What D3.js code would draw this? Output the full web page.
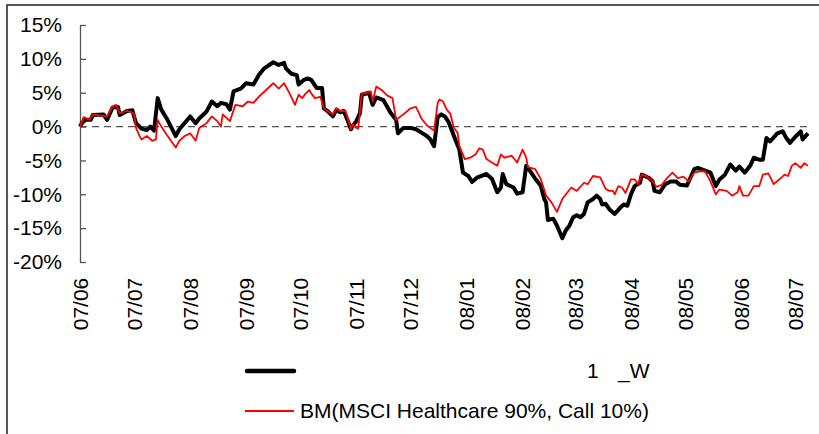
<!DOCTYPE html>
<html>
<head>
<meta charset="utf-8">
<script src="https://cdn.jsdelivr.net/npm/d3@7"></script>
<style>
  body { margin: 0; background: #fff; }
  svg { display: block; font-family: "Liberation Sans", Arial, sans-serif; }
</style>
</head>
<body>
<div id="chart"></div>
<script>
// fund (black) — cumulative return, %
var fundDates = ["2007-06-01","2007-06-02","2007-06-04","2007-06-07","2007-06-08","2007-06-14","2007-06-16","2007-06-19","2007-06-22","2007-06-23",
  "2007-06-27","2007-06-30","2007-07-02","2007-07-05","2007-07-08","2007-07-10","2007-07-12","2007-07-14","2007-07-16","2007-07-19",
  "2007-07-24","2007-07-26","2007-08-01","2007-08-04","2007-08-06","2007-08-10","2007-08-13","2007-08-16","2007-08-18","2007-08-21",
  "2007-08-23","2007-08-25","2007-08-29","2007-09-01","2007-09-05","2007-09-08","2007-09-11","2007-09-16","2007-09-19","2007-09-22",
  "2007-09-23","2007-09-26","2007-09-29","2007-09-30","2007-10-03","2007-10-05","2007-10-07","2007-10-10","2007-10-13","2007-10-14",
  "2007-10-16","2007-10-19","2007-10-21","2007-10-23","2007-10-25","2007-10-27","2007-10-29","2007-10-30","2007-11-01","2007-11-03",
  "2007-11-04","2007-11-08","2007-11-10","2007-11-12","2007-11-16","2007-11-20","2007-11-23","2007-11-24","2007-11-27","2007-12-01",
  "2007-12-04","2007-12-07","2007-12-10","2007-12-12","2007-12-14","2007-12-16","2007-12-18","2007-12-20","2007-12-22","2007-12-24",
  "2007-12-26","2007-12-28","2007-12-30","2008-01-02","2008-01-04","2008-01-07","2008-01-09","2008-01-12","2008-01-15","2008-01-18",
  "2008-01-20","2008-01-21","2008-01-23","2008-01-27","2008-01-29","2008-02-01","2008-02-03","2008-02-05","2008-02-08","2008-02-11",
  "2008-02-13","2008-02-14","2008-02-15","2008-02-18","2008-02-20","2008-02-23","2008-02-25","2008-02-27","2008-02-29","2008-03-02",
  "2008-03-04","2008-03-06","2008-03-08","2008-03-11","2008-03-13","2008-03-15","2008-03-16","2008-03-18","2008-03-20","2008-03-23",
  "2008-03-26","2008-03-28","2008-03-30","2008-04-01","2008-04-03","2008-04-06","2008-04-07","2008-04-11","2008-04-13","2008-04-14",
  "2008-04-17","2008-04-20","2008-04-23","2008-04-26","2008-04-28","2008-05-02","2008-05-06","2008-05-08","2008-05-11","2008-05-15",
  "2008-05-18","2008-05-20","2008-05-23","2008-05-26","2008-05-29","2008-05-31","2008-06-03","2008-06-06","2008-06-08","2008-06-11",
  "2008-06-13","2008-06-15","2008-06-17","2008-06-21","2008-06-24","2008-06-26","2008-06-28","2008-07-01","2008-07-04","2008-07-05",
  "2008-07-08"];
var fundValues = [0, 0.5, 1.0, 1.0, 1.7, 1.8, 1.0, 2.8, 2.9, 1.7,
  2.3, 2.4, 0.5, -0.3, -0.5, 0, -0.6, 4.2, 2.5, 1.2,
  -1.4, -0.4, 1.5, 0.5, 1.2, 2.2, 3.7, 3.0, 3.5, 3.3,
  2.5, 5.2, 5.6, 6.4, 6.2, 7.6, 8.6, 9.5, 9.1, 9.4,
  8.6, 7.8, 7.6, 6.2, 6.9, 7.1, 6.9, 5.7, 5.7, 2.7,
  2.3, 1.5, 2.5, 2.1, 2.3, 1.0, -0.4, 0.1, 0.8, 2.0,
  4.7, 5.0, 3.2, 4.3, 3.9, 2.0, 1.0, -1.0, -0.2, -0.2,
  -0.4, -0.9, -1.4, -1.9, -2.9, 1.4, 1.8, 1.5, 0.7, -0.7,
  -2.1, -3.4, -6.8, -7.3, -8.2, -7.5, -7.3, -7.0, -7.7, -9.7,
  -9.0, -7.0, -8.5, -9.0, -9.9, -9.7, -5.8, -6.5, -7.7, -8.7,
  -10.7, -11.2, -13.8, -13.6, -14.6, -16.5, -15.3, -14.6, -13.4, -13.1,
  -13.4, -12.9, -11.2, -10.7, -10.2, -10.7, -11.5, -11.4, -12.2, -12.9,
  -12.0, -11.5, -11.7, -10.0, -8.8, -8.3, -7.1, -7.6, -8.1, -9.5,
  -9.7, -8.5, -8.1, -8.1, -8.6, -8.7, -6.3, -6.1, -6.4, -6.8,
  -8.8, -7.8, -7.1, -5.6, -6.5, -5.9, -6.8, -5.8, -4.6, -4.9,
  -4.9, -1.7, -2.2, -1.0, -0.7, -1.7, -2.4, -1.5, -0.7, -1.9,
  -1.0];

// benchmark (red) — BM(MSCI Healthcare 90%, Call 10%), %
var bmDates = ["2007-06-01","2007-06-03","2007-06-06","2007-06-08","2007-06-16","2007-06-19","2007-06-21","2007-06-23","2007-06-27","2007-06-30",
  "2007-07-01","2007-07-02","2007-07-04","2007-07-05","2007-07-08","2007-07-11","2007-07-13","2007-07-14","2007-07-16","2007-07-19",
  "2007-07-24","2007-07-26","2007-07-29","2007-08-01","2007-08-04","2007-08-06","2007-08-10","2007-08-13","2007-08-16","2007-08-18",
  "2007-08-19","2007-08-23","2007-08-26","2007-08-30","2007-09-02","2007-09-05","2007-09-08","2007-09-12","2007-09-16","2007-09-19",
  "2007-09-22","2007-09-25","2007-09-28","2007-09-30","2007-10-02","2007-10-04","2007-10-06","2007-10-07","2007-10-09","2007-10-12",
  "2007-10-14","2007-10-16","2007-10-19","2007-10-21","2007-10-23","2007-10-26","2007-10-29","2007-10-30","2007-11-01","2007-11-02",
  "2007-11-04","2007-11-06","2007-11-09","2007-11-10","2007-11-12","2007-11-15","2007-11-18","2007-11-21","2007-11-23","2007-11-27",
  "2007-12-01","2007-12-04","2007-12-07","2007-12-10","2007-12-14","2007-12-16","2007-12-17","2007-12-19","2007-12-21","2007-12-23",
  "2007-12-25","2007-12-27","2007-12-28","2007-12-31","2008-01-03","2008-01-06","2008-01-08","2008-01-10","2008-01-12","2008-01-15",
  "2008-01-18","2008-01-20","2008-01-22","2008-01-26","2008-01-29","2008-02-01","2008-02-03","2008-02-04","2008-02-08","2008-02-11",
  "2008-02-14","2008-02-17","2008-02-20","2008-02-23","2008-02-25","2008-02-28","2008-03-02","2008-03-06","2008-03-08","2008-03-11",
  "2008-03-15","2008-03-18","2008-03-20","2008-03-22","2008-03-23","2008-03-25","2008-03-27","2008-03-29","2008-04-01","2008-04-03",
  "2008-04-05","2008-04-07","2008-04-10","2008-04-13","2008-04-15","2008-04-18","2008-04-21","2008-04-24","2008-04-27","2008-04-30",
  "2008-05-03","2008-05-06","2008-05-09","2008-05-12","2008-05-15","2008-05-18","2008-05-20","2008-05-24","2008-05-27","2008-05-30",
  "2008-05-31","2008-06-02","2008-06-05","2008-06-08","2008-06-11","2008-06-13","2008-06-16","2008-06-19","2008-06-23","2008-06-25",
  "2008-06-27","2008-06-29","2008-07-01","2008-07-04","2008-07-06","2008-07-08"];
var bmValues = [0, 1.4, 1.0, 1.8, 1.5, 3.0, 3.2, 2.0, 2.3, 2.1,
  1.8, -0.2, -1.4, -1.9, -1.4, -2.1, -1.9, 1.0, 0.0, -1.2,
  -3.1, -2.1, -1.4, -1.0, -2.1, -0.2, 0.5, 1.5, 0.8, 0.0,
  1.8, 0.8, 3.2, 3.0, 3.7, 3.5, 4.4, 5.4, 6.4, 5.6,
  6.4, 4.9, 3.2, 4.7, 4.2, 4.9, 5.4, 4.9, 4.2, 4.4,
  2.7, 2.3, 1.8, 2.7, 2.3, 2.3, -0.4, 0.3, -0.2, -0.3,
  4.9, 4.9, 5.2, 3.7, 5.9, 5.4, 4.6, 4.2, 1.0, 1.8,
  2.7, 2.9, 1.2, 0.2, -0.6, 3.5, 4.0, 3.7, 2.5, 1.9,
  -0.2, -0.9, -2.9, -4.8, -4.6, -4.1, -3.2, -3.4, -4.8, -5.3,
  -5.8, -4.1, -4.6, -4.3, -5.3, -3.4, -4.6, -6.0, -6.3, -7.7,
  -10.2, -11.2, -12.6, -10.7, -10.0, -9.0, -9.5, -8.3, -8.5, -7.3,
  -7.5, -9.2, -9.5, -9.5, -10.0, -8.8, -9.0, -9.8, -7.8, -7.8,
  -8.5, -7.1, -7.4, -8.1, -8.9, -8.6, -7.6, -6.8, -7.6, -7.4,
  -8.1, -6.8, -6.6, -6.6, -8.1, -10.0, -9.3, -9.5, -10.2, -9.7,
  -8.8, -10.2, -10.2, -8.8, -8.8, -7.1, -6.9, -8.5, -7.6, -7.1,
  -7.3, -5.8, -5.4, -6.1, -5.4, -5.8];

var yTicks = [15, 10, 5, 0, -5, -10, -15, -20];
var xStart = "2007-06-01", xEnd = "2008-07-08";
var legendFund = ["1", "_W"];
var legendBm = "BM(MSCI Healthcare 90%, Call 10%)";

var width = 819, height = 434;
var fontSize = "21px";
var parse = d3.timeParse("%Y-%m-%d");

var svg = d3.select("#chart").append("svg")
    .attr("width", width)
    .attr("height", height);

// outer frame (runs off the right and bottom edge)
svg.append("rect")
    .attr("x", 7).attr("y", 5)
    .attr("width", 840).attr("height", 460)
    .attr("fill", "none")
    .attr("stroke", "#222")
    .attr("stroke-width", 1.5);

var x = d3.scaleTime()
    .domain([parse(xStart), parse(xEnd)])
    .range([80, 808]);

var y = d3.scaleLinear()
    .domain([-20, 15])
    .range([262, 25]);

// y axis, ticks pointing inward
var yAxis = svg.append("g")
    .attr("transform", "translate(80,0)")
    .call(d3.axisLeft(y)
      .tickValues(yTicks)
      .tickSize(-6)
      .tickSizeOuter(0)
      .tickPadding(18)
      .tickFormat(function(d) { return d + "%"; }));
yAxis.select(".domain").attr("stroke", "#555").attr("stroke-width", 1.3);
yAxis.selectAll(".tick line").attr("stroke", "#555").attr("stroke-width", 1.3);
yAxis.selectAll(".tick text")
    .attr("fill", "#000")
    .style("font-size", fontSize)
    .style("font-family", "'Liberation Sans', Arial, sans-serif");

// x axis labels only, rotated
var xAxis = svg.append("g")
    .call(d3.axisBottom(x)
      .tickValues(d3.timeMonth.range(parse("2007-06-01"), parse("2008-07-02")))
      .tickSize(0)
      .tickFormat(d3.timeFormat("%y/%m")));
xAxis.select(".domain").remove();
xAxis.selectAll(".tick text")
    .attr("x", 0).attr("y", 0)
    .attr("dy", ".35em")
    .attr("transform", "translate(0,304) rotate(-90)")
    .style("text-anchor", "middle")
    .attr("fill", "#000")
    .style("font-size", fontSize)
    .style("font-family", "'Liberation Sans', Arial, sans-serif");

// dashed zero line
svg.append("line")
    .attr("x1", x.range()[0]).attr("x2", x.range()[1])
    .attr("y1", y(0)).attr("y2", y(0))
    .attr("stroke", "#555")
    .attr("stroke-width", 1.3)
    .attr("stroke-dasharray", "7,5");

var line = d3.line()
    .x(function(d) { return x(d.date); })
    .y(function(d) { return y(d.value); });

var fund = fundDates.map(function(d, i) { return { date: parse(d), value: fundValues[i] }; });
var bm = bmDates.map(function(d, i) { return { date: parse(d), value: bmValues[i] }; });

svg.append("path")
    .datum(fund)
    .attr("d", line)
    .attr("fill", "none")
    .attr("stroke", "#000")
    .attr("stroke-width", 4)
    .attr("stroke-linejoin", "round");

svg.append("path")
    .datum(bm)
    .attr("d", line)
    .attr("fill", "none")
    .attr("stroke", "#ff0000")
    .attr("stroke-width", 1.8)
    .attr("stroke-linejoin", "round");

// legend
svg.append("line")
    .attr("x1", 247).attr("x2", 294)
    .attr("y1", 371).attr("y2", 371)
    .attr("stroke", "#000")
    .attr("stroke-width", 4.5)
    .attr("stroke-linecap", "round");

svg.append("text")
    .attr("x", 587).attr("y", 371).attr("dy", ".35em")
    .style("font-size", fontSize)
    .text(legendFund[0]);
svg.append("text")
    .attr("x", 618).attr("y", 371).attr("dy", ".35em")
    .style("font-size", fontSize)
    .text(legendFund[1]);

svg.append("line")
    .attr("x1", 245).attr("x2", 294)
    .attr("y1", 411).attr("y2", 411)
    .attr("stroke", "#ff0000")
    .attr("stroke-width", 1.8);

svg.append("text")
    .attr("x", 300).attr("y", 411).attr("dy", ".35em")
    .style("font-size", fontSize)
    .text(legendBm);
</script>
</body>
</html>
